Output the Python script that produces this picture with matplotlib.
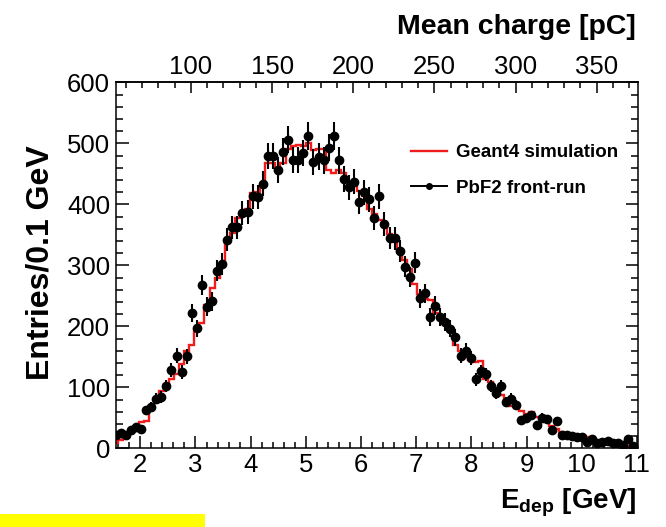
import numpy as np
import matplotlib
matplotlib.use('Agg')
import matplotlib.pyplot as plt
from matplotlib.lines import Line2D
from matplotlib.patches import Rectangle
from matplotlib.ticker import MultipleLocator, FixedLocator

# ---------------- data ----------------
bin_first = 1.554      # centre of first bin [GeV]
bin_width = 0.0919     # GeV

data_counts = [21, 25, 22, 30, 35, 31, 62, 67, 81, 84,
               102, 129, 152, 125, 151, 222, 197, 267, 232, 241,
               291, 302, 342, 362, 362, 385, 387, 413, 412, 434,
               479, 479, 456, 486, 506, 473, 473, 484, 512, 469,
               478, 472, 493, 512, 472, 441, 428, 437, 404, 420,
               408, 378, 413, 368, 345, 344, 324, 298, 281, 304,
               246, 254, 216, 234, 216, 207, 196, 182, 152, 160,
               148, 113, 126, 121, 102, 91, 102, 76, 81, 71,
               46, 49, 54, 39, 50, 48, 30, 44, 21, 22,
               20, 18, 19, 10, 16, 9, 10, 12, 8, 9,
               5, 16, 4]

sim_counts = [9, 13, 20, 27, 34, 43, 44, 64, 76, 94,
              106, 114, 122, 139, 160, 170, 193, 205, 235, 262,
              280, 302, 338, 353, 378, 387, 393, 418, 420, 431,
              467, 467, 456, 468, 490, 495, 497, 496, 501, 489,
              491, 490, 457, 452, 457, 451, 436, 431, 422, 414,
              392, 384, 374, 366, 352, 338, 322, 308, 294, 269,
              253, 245, 243, 222, 210, 202, 192, 170, 160, 152,
              145, 141, 143, 113, 108, 98, 87, 79, 70, 66,
              61, 56, 59, 51, 49, 46, 36, 32, 26, 24,
              24, 21, 20, 19, 16, 11, 13, 11, 10, 8,
              6, 4, 2]

x_ticks = [2, 3, 4, 5, 6, 7, 8, 9, 10, 11]
y_ticks = [0, 100, 200, 300, 400, 500, 600]
charge_ticks = [100, 150, 200, 250, 300, 350]
pc_per_gev = 34.0
pc_offset = 0.8

labels = ["Geant4 simulation", "PbF2 front-run"]

# ---------------- fonts ----------------
plt.rcParams['font.family'] = ['Liberation Sans', 'DejaVu Sans']
plt.rcParams['mathtext.fontset'] = 'custom'
plt.rcParams['mathtext.rm'] = 'Liberation Sans'
plt.rcParams['mathtext.bf'] = 'Liberation Sans:bold'
plt.rcParams['mathtext.it'] = 'Liberation Sans:italic'

tick_fs = 18.5
title_fs = 20.5
legend_fs = 13.5

# ---------------- figure ----------------
W, H = 666, 527
fig = plt.figure(figsize=(W / 100, H / 100), dpi=100)
ax = fig.add_axes([115.7 / W, 1 - 448.3 / H, (638 - 115.7) / W, (448.3 - 82.3) / H])

n = len(data_counts)
centers = bin_first + bin_width * np.arange(n)
edges = np.append(centers - bin_width / 2, centers[-1] + bin_width / 2)

red = '#f01c1c'
ax.stairs(sim_counts, edges, color=red, lw=1.7, baseline=None, zorder=2)
d = np.array(data_counts, dtype=float)
ax.errorbar(centers, d, yerr=np.sqrt(d), fmt='o', color='black', ms=6,
            elinewidth=1.5, capsize=0, zorder=3)

ax.set_xlim(1.554, 11.02)
ax.set_ylim(0, 600)
ax.xaxis.set_major_locator(FixedLocator(x_ticks))
ax.xaxis.set_minor_locator(MultipleLocator(0.2))
ax.yaxis.set_major_locator(FixedLocator(y_ticks))
ax.yaxis.set_minor_locator(MultipleLocator(20))

for sp in ax.spines.values():
    sp.set_linewidth(1.1)

ax.tick_params(axis='x', which='both', direction='in', top=False, bottom=True,
               width=1.1, labelsize=tick_fs, pad=3.2)
ax.tick_params(axis='x', which='major', length=8.4)
ax.tick_params(axis='x', which='minor', length=4.3)
ax.tick_params(axis='y', which='both', direction='in', left=True, right=True,
               width=1.1, labelsize=tick_fs, pad=4)
ax.tick_params(axis='y', which='major', length=9)
ax.tick_params(axis='y', which='minor', length=4.7)

secax = ax.secondary_xaxis('top', functions=(lambda e: pc_per_gev * e + pc_offset,
                                              lambda q: (q - pc_offset) / pc_per_gev))
secax.xaxis.set_major_locator(FixedLocator(charge_ticks))
secax.xaxis.set_minor_locator(MultipleLocator(10))
secax.tick_params(axis='x', which='both', direction='in', width=1.1,
                  labelsize=tick_fs, pad=2.5)
secax.tick_params(axis='x', which='major', length=8)
secax.tick_params(axis='x', which='minor', length=4.3)
secax.spines['top'].set_linewidth(1.1)

# axis titles
fig.text(636 / W, 1 - 27 / H, "Mean charge [pC]", ha='right', va='center',
         fontsize=title_fs, fontweight='bold')
fig.text(636 / W, 1 - 503 / H, r"$\mathbf{E}_{\mathbf{dep}}$ [GeV]", ha='right',
         va='center', fontsize=20, fontweight='bold')
fig.text(41 / W, 1 - 263 / H, "Entries/0.1 GeV", ha='center', va='center',
         rotation=90, fontsize=23, fontweight='bold')

# legend
lfs_px = legend_fs * 100 / 72
handles = [Line2D([], [], color=red, lw=1.7),
           Line2D([], [], color='black', lw=1.4, marker='o', ms=4)]
leg = ax.legend(handles, labels, loc='upper left', frameon=False,
                bbox_to_anchor=(411 / W, 1 - 144 / H), bbox_transform=fig.transFigure,
                borderpad=0, borderaxespad=0, handlelength=36 / lfs_px,
                handletextpad=8.5 / lfs_px, labelspacing=(36 - 0.93 * lfs_px) / lfs_px,
                prop={'weight': 'bold', 'size': legend_fs})

# yellow strip at bottom-left
fig.patches.append(Rectangle((0, 0), 205 / W, 13 / H, transform=fig.transFigure,
                             facecolor='#ffff00', edgecolor='none'))

fig.savefig('out.png', dpi=100, facecolor='white')
